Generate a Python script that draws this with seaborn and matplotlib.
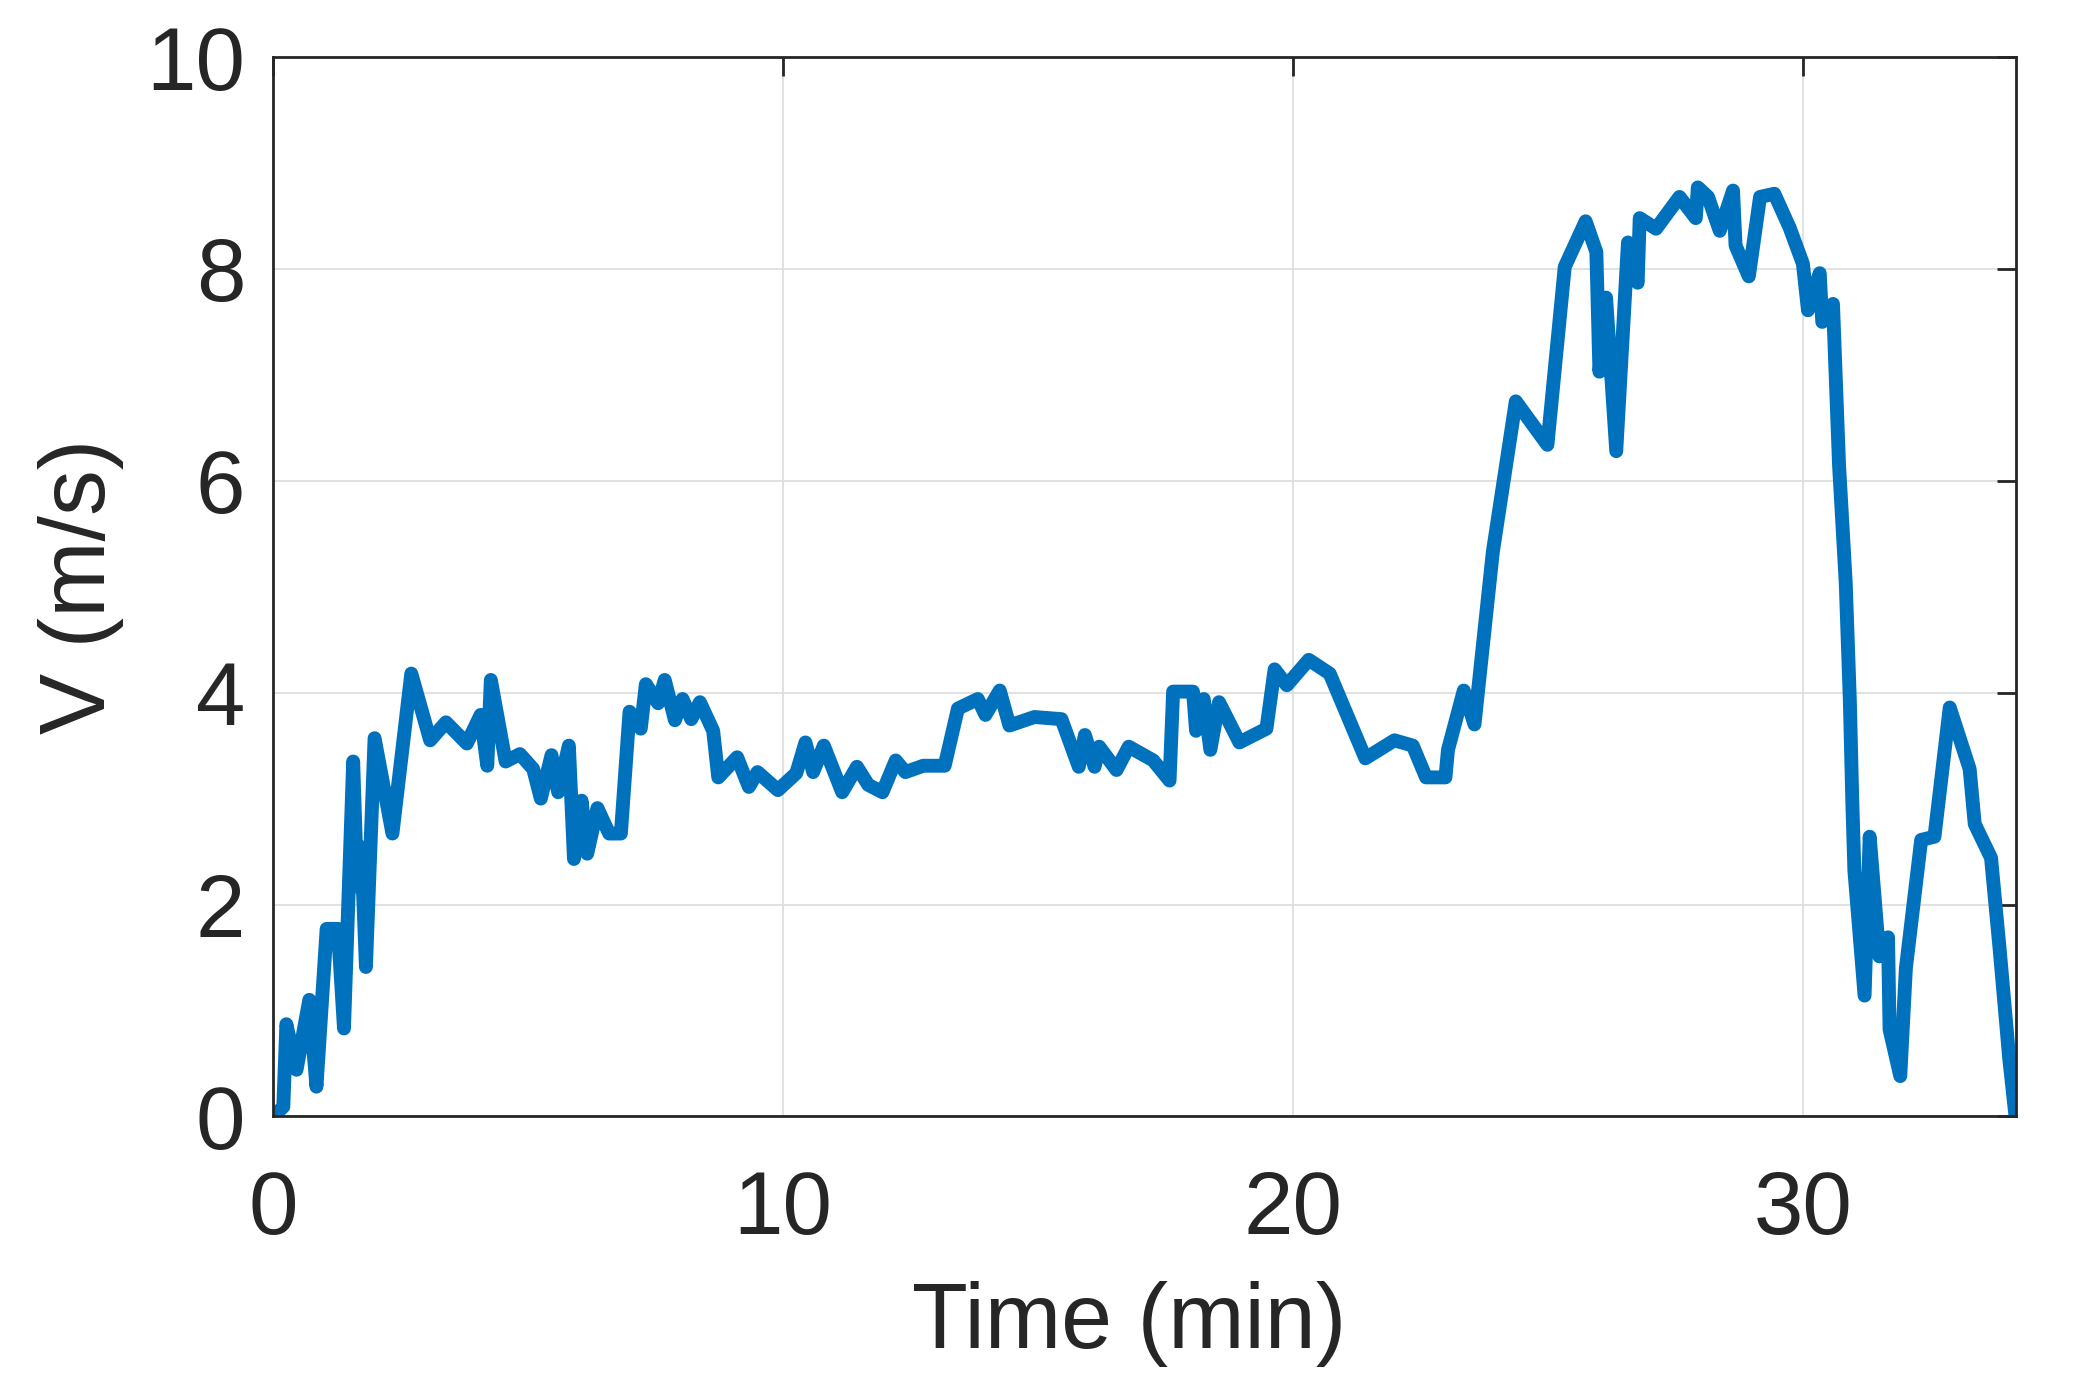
import matplotlib
matplotlib.use("Agg")
import matplotlib.pyplot as plt
import seaborn as sns
import pandas as pd

# speed trace
time_min = [0, 0.2, 0.26, 0.46, 0.71, 0.85, 1.05, 1.27, 1.39, 1.57, 1.65, 1.73, 1.82, 1.99,
            2.34, 2.71, 3.08, 3.39, 3.80, 4.07, 4.20, 4.27, 4.56, 4.84, 5.10, 5.25, 5.46,
            5.59, 5.80, 5.90, 6.05, 6.16, 6.36, 6.59, 6.82, 6.99, 7.21, 7.31, 7.55, 7.68,
            7.88, 8.03, 8.20, 8.37, 8.63, 8.73, 9.10, 9.33, 9.50, 9.90, 10.26, 10.44, 10.59,
            10.80, 11.16, 11.45, 11.67, 11.95, 12.21, 12.40, 12.75, 13.17, 13.43, 13.82,
            13.97, 14.25, 14.44, 14.93, 15.46, 15.80, 15.92, 16.11, 16.20, 16.54, 16.78,
            17.26, 17.58, 17.65, 18.04, 18.10, 18.25, 18.38, 18.55, 18.95, 19.48, 19.64,
            19.88, 20.31, 20.72, 21.42, 21.99, 22.35, 22.61, 22.99, 23.04, 23.35, 23.56,
            23.92, 24.37, 24.99, 25.33, 25.74, 25.95, 26.01, 26.14, 26.34, 26.57, 26.76,
            26.80, 27.12, 27.58, 27.90, 27.94, 28.14, 28.37, 28.63, 28.68, 28.94, 29.16,
            29.44, 29.74, 30.0, 30.10, 30.33, 30.38, 30.59, 30.71, 30.84, 30.92, 30.97,
            31.01, 31.21, 31.31, 31.50, 31.67, 31.70, 31.91, 32.02, 32.32, 32.58, 32.88,
            33.27, 33.37, 33.69, 33.86, 34.05, 34.17]
speed = [0, 0.09, 0.87, 0.44, 1.10, 0.28, 1.77, 1.77, 0.83, 3.35, 2.17, 2.54, 1.41, 3.57,
         2.67, 4.18, 3.55, 3.72, 3.52, 3.79, 3.31, 4.12, 3.35, 3.42, 3.28, 3.00, 3.41,
         3.06, 3.50, 2.43, 2.98, 2.48, 2.91, 2.67, 2.67, 3.82, 3.66, 4.08, 3.90, 4.12,
         3.74, 3.94, 3.75, 3.91, 3.64, 3.20, 3.39, 3.11, 3.25, 3.08, 3.24, 3.53, 3.25,
         3.50, 3.06, 3.30, 3.13, 3.06, 3.36, 3.25, 3.31, 3.31, 3.85, 3.94,
         3.79, 4.02, 3.69, 3.77, 3.75, 3.30, 3.60, 3.30, 3.49, 3.27, 3.49,
         3.36, 3.17, 4.01, 4.01, 3.64, 3.94, 3.46, 3.91, 3.53, 3.66, 4.22,
         4.07, 4.31, 4.18, 3.38, 3.55, 3.50, 3.20, 3.20, 3.46, 4.02, 3.70,
         5.33, 6.75, 6.34, 8.02, 8.45, 8.16, 7.03, 7.73, 6.28, 8.25, 7.87,
         8.48, 8.38, 8.68, 8.48, 8.77, 8.68, 8.36, 8.74, 8.22, 7.93, 8.68,
         8.71, 8.39, 8.05, 7.61, 7.96, 7.50, 7.67, 6.14, 5.04, 3.94, 2.96,
         2.32, 1.14, 2.64, 1.51, 1.69, 0.82, 0.38, 1.40, 2.61, 2.64, 3.86,
         3.28, 2.76, 2.44, 1.57, 0.53, 0.0]

x_ticks = [0, 10, 20, 30]
y_ticks = [0, 2, 4, 6, 8, 10]

df = pd.DataFrame({'time': time_min, 'speed': speed})

sns.set_style('white')
plt.rcParams['font.family'] = ['Liberation Sans', 'DejaVu Sans']
text_color = '#262626'

fig = plt.figure(figsize=(20.8, 13.93), dpi=100)
ax = fig.add_axes([0.1313, 0.1986, 0.8377, 0.7604])

sns.lineplot(data=df, x='time', y='speed', ax=ax, color='#0072BD',
             linewidth=10, estimator=None, sort=False,
             solid_joinstyle='round', solid_capstyle='round')

ax.set_xlim(0, 34.17)
ax.set_ylim(0, 10)
ax.set_xticks(x_ticks)
ax.set_yticks(y_ticks)
ax.grid(True, color='#dedede', linewidth=1.3)
ax.set_axisbelow(True)

for side in ['top', 'right', 'bottom', 'left']:
    ax.spines[side].set_visible(True)
    ax.spines[side].set_color(text_color)
    ax.spines[side].set_linewidth(2.0)

ax.tick_params(axis='both', direction='in', length=14, width=2.0, colors=text_color,
               labelsize=64, top=True, right=True)
ax.tick_params(axis='x', pad=38)
ax.tick_params(axis='y', pad=20)

ax.set_xlabel('Time (min)', fontsize=66, color=text_color)
ax.set_ylabel('V (m/s)', fontsize=66, color=text_color)
ax.xaxis.label.set_va('center')
ax.yaxis.label.set_va('center')
ax.xaxis.set_label_coords(0.491, -0.196)
ax.yaxis.set_label_coords(-0.11, 0.5)

fig.savefig('out.png', dpi=100)
